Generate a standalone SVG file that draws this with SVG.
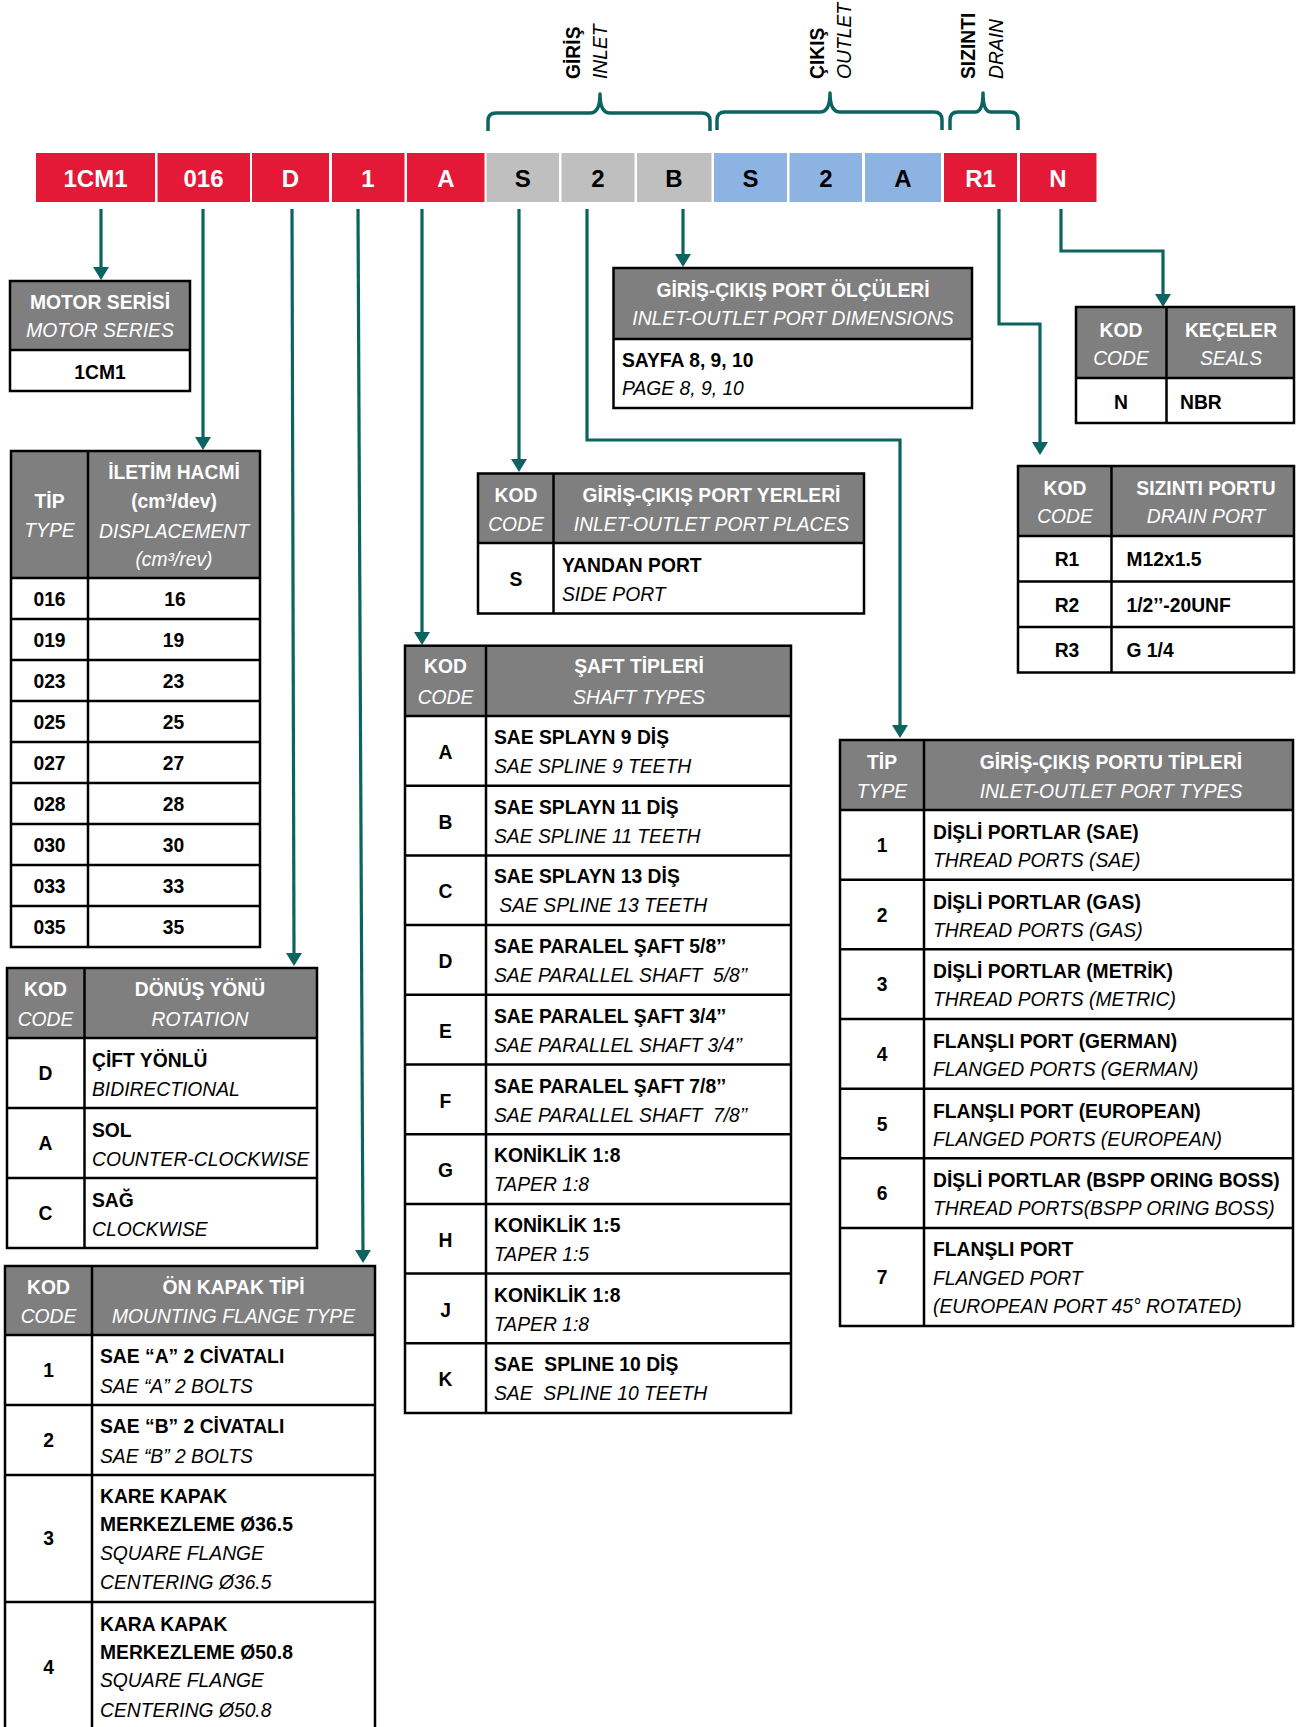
<svg xmlns="http://www.w3.org/2000/svg" width="1303" height="1727" viewBox="0 0 1303 1727">
<style>
text{font-family:"Liberation Sans",Arial,sans-serif;font-size:19.3px;fill:#000}
.b{font-weight:bold}
.i{font-style:italic}
.w{fill:#fff}
.c{text-anchor:middle}
.cell{font-size:24px;font-weight:bold;text-anchor:middle}
.red{fill:#E31937}
.gry{fill:#BFBFBF}
.blu{fill:#8DB3E2}
.hd{fill:#7F7F7F}
.bg{fill:#fff}
.ln{stroke:#000;stroke-width:2.5;fill:none}
.con{stroke:#0C6461;stroke-width:3.2;fill:none}
.br{stroke:#0C6461;stroke-width:3.5;fill:none;stroke-linejoin:round}
.pre{white-space:pre}
</style>
<defs>
<marker id="ah" markerUnits="userSpaceOnUse" markerWidth="16" markerHeight="16" refX="4" refY="8" orient="auto">
<path d="M0,0 L13,8 L0,16 z" fill="#0C6461"/>
</marker>
</defs>
<rect width="1303" height="1727" fill="#fff"/>

<g id="code-bar">
<rect class="red" x="36" y="153" width="119" height="49"/>
<rect class="red" x="157.5" y="153" width="92.5" height="49"/>
<rect class="red" x="252" y="153" width="77" height="49"/>
<rect class="red" x="332" y="153" width="72.5" height="49"/>
<rect class="red" x="407" y="153" width="77.5" height="49"/>
<rect class="gry" x="486.5" y="153" width="72.5" height="49"/>
<rect class="gry" x="561.5" y="153" width="73" height="49"/>
<rect class="gry" x="637" y="153" width="74.5" height="49"/>
<rect class="blu" x="714" y="153" width="73" height="49"/>
<rect class="blu" x="789.5" y="153" width="72.5" height="49"/>
<rect class="blu" x="865" y="153" width="76" height="49"/>
<rect class="red" x="944" y="153" width="73" height="49"/>
<rect class="red" x="1020" y="153" width="76.5" height="49"/>
<text class="cell w" x="95.5" y="187">1CM1</text>
<text class="cell w" x="203.5" y="187">016</text>
<text class="cell w" x="290.5" y="187">D</text>
<text class="cell w" x="368" y="187">1</text>
<text class="cell w" x="446" y="187">A</text>
<text class="cell" x="522.7" y="187">S</text>
<text class="cell" x="598" y="187">2</text>
<text class="cell" x="674" y="187">B</text>
<text class="cell" x="750.5" y="187">S</text>
<text class="cell" x="826" y="187">2</text>
<text class="cell" x="903" y="187">A</text>
<text class="cell w" x="980.5" y="187">R1</text>
<text class="cell w" x="1058" y="187">N</text>
</g>

<g id="braces">
<path class="br" d="M488,131 V121 Q488,113 496,113 H590 Q600,113 600,94 Q600,113 610,113 H702 Q710,113 710,121 V131"/>
<path class="br" d="M717,130 V120 Q717,112 725,112 H820 Q830,112 830,93 Q830,112 840,112 H934 Q942,112 942,120 V130"/>
<path class="br" d="M950,130 V120 Q950,112 958,112 H975 Q983,112 983,93 Q983,112 991,112 H1010 Q1018,112 1018,120 V130"/>
<text class="b" transform="translate(580,79) rotate(-90)">GİRİŞ</text>
<text class="i" transform="translate(607,79) rotate(-90)">INLET</text>
<text class="b" transform="translate(824,79) rotate(-90)">ÇIKIŞ</text>
<text class="i" transform="translate(851,79) rotate(-90)">OUTLET</text>
<text class="b" transform="translate(975,79) rotate(-90)">SIZINTI</text>
<text class="i" transform="translate(1003,79) rotate(-90)">DRAIN</text>
</g>

<g id="connectors">
<path class="con" marker-end="url(#ah)" d="M101,209 V271"/>
<path class="con" marker-end="url(#ah)" d="M203,209 V441"/>
<path class="con" marker-end="url(#ah)" d="M292,209 L294,957"/>
<path class="con" marker-end="url(#ah)" d="M358,209 L363,1254"/>
<path class="con" marker-end="url(#ah)" d="M422,209 V636"/>
<path class="con" marker-end="url(#ah)" d="M519,209 V463"/>
<path class="con" marker-end="url(#ah)" d="M587,209 V440 H900 V729"/>
<path class="con" marker-end="url(#ah)" d="M683,209 V258"/>
<path class="con" marker-end="url(#ah)" d="M999,209 V324 H1040 V446"/>
<path class="con" marker-end="url(#ah)" d="M1061,209 V251 H1163 V298"/>
</g>

<g id="motor-series">
<rect class="hd" x="10" y="281" width="180" height="69"/>
<rect class="bg" x="10" y="350" width="180" height="41"/>
<rect class="ln" x="10" y="281" width="180" height="110"/>
<line class="ln" x1="10" y1="350" x2="190" y2="350"/>
<text class="b w c" x="100" y="309">MOTOR SERİSİ</text>
<text class="i w c" x="100" y="337">MOTOR SERIES</text>
<text class="b c" x="100" y="378.5">1CM1</text>
</g>

<g id="displacement">
<rect class="hd" x="11" y="451" width="249" height="127"/>
<rect class="bg" x="11" y="578" width="249" height="369"/>
<rect class="ln" x="11" y="451" width="249" height="496"/>
<line class="ln" x1="88" y1="451" x2="88" y2="947"/>
<path class="ln" d="M11,578 H260 M11,619 H260 M11,660 H260 M11,701 H260 M11,742 H260 M11,783 H260 M11,824 H260 M11,865 H260 M11,906 H260"/>
<text class="b w c" x="49.5" y="508">TİP</text>
<text class="i w c" x="49.5" y="537">TYPE</text>
<text class="b w c" x="174" y="479">İLETİM HACMİ</text>
<text class="b w c" x="174" y="508">(cm³/dev)</text>
<text class="i w c" x="174" y="538">DISPLACEMENT</text>
<text class="i w c" x="174" y="566">(cm³/rev)</text>
<g class="b">
<text class="b c" x="49.5" y="605.5">016</text><text class="b c" x="175" y="605.5">16</text>
<text class="b c" x="49.5" y="646.5">019</text><text class="b c" x="173.5" y="646.5">19</text>
<text class="b c" x="49.5" y="687.5">023</text><text class="b c" x="173.5" y="687.5">23</text>
<text class="b c" x="49.5" y="728.5">025</text><text class="b c" x="173.5" y="728.5">25</text>
<text class="b c" x="49.5" y="769.5">027</text><text class="b c" x="173.5" y="769.5">27</text>
<text class="b c" x="49.5" y="810.5">028</text><text class="b c" x="173.5" y="810.5">28</text>
<text class="b c" x="49.5" y="851.5">030</text><text class="b c" x="173.5" y="851.5">30</text>
<text class="b c" x="49.5" y="892.5">033</text><text class="b c" x="173.5" y="892.5">33</text>
<text class="b c" x="49.5" y="933.5">035</text><text class="b c" x="173.5" y="933.5">35</text>
</g>
</g>

<g id="rotation">
<rect class="hd" x="7" y="968" width="310" height="70"/>
<rect class="bg" x="7" y="1038" width="310" height="210"/>
<rect class="ln" x="7" y="968" width="310" height="280"/>
<line class="ln" x1="84.5" y1="968" x2="84.5" y2="1248"/>
<path class="ln" d="M7,1038 H317 M7,1108 H317 M7,1178 H317"/>
<text class="b w c" x="45.5" y="996">KOD</text>
<text class="i w c" x="45.5" y="1026">CODE</text>
<text class="b w c" x="200" y="996">DÖNÜŞ YÖNÜ</text>
<text class="i w c" x="200" y="1026">ROTATION</text>
<text class="b c" x="45.5" y="1080">D</text>
<text class="b" x="92" y="1067">ÇİFT YÖNLÜ</text>
<text class="i" x="92" y="1095.5">BIDIRECTIONAL</text>
<text class="b c" x="45.5" y="1150">A</text>
<text class="b" x="92" y="1137">SOL</text>
<text class="i" x="92" y="1165.5">COUNTER-CLOCKWISE</text>
<text class="b c" x="45.5" y="1220">C</text>
<text class="b" x="92" y="1207">SAĞ</text>
<text class="i" x="92" y="1235.5">CLOCKWISE</text>
</g>

<g id="mounting-flange">
<rect class="hd" x="5" y="1266" width="370" height="69"/>
<rect class="bg" x="5" y="1335" width="370" height="400"/>
<path class="ln" d="M5,1740 V1266 H375 V1740"/>
<line class="ln" x1="92" y1="1266" x2="92" y2="1740"/>
<path class="ln" d="M5,1335 H375 M5,1405 H375 M5,1475 H375 M5,1602 H375"/>
<text class="b w c" x="48.5" y="1294">KOD</text>
<text class="i w c" x="48.5" y="1323">CODE</text>
<text class="b w c" x="233.5" y="1294">ÖN KAPAK TİPİ</text>
<text class="i w c" x="233.5" y="1323">MOUNTING FLANGE TYPE</text>
<text class="b c" x="48.5" y="1377">1</text>
<text class="b" x="100" y="1363">SAE “A” 2 CİVATALI</text>
<text class="i" x="100" y="1392.5">SAE “A” 2 BOLTS</text>
<text class="b c" x="48.5" y="1447">2</text>
<text class="b" x="100" y="1433">SAE “B” 2 CİVATALI</text>
<text class="i" x="100" y="1462.5">SAE “B” 2 BOLTS</text>
<text class="b c" x="48.5" y="1545">3</text>
<text class="b" x="100" y="1502.5">KARE KAPAK</text>
<text class="b" x="100" y="1531">MERKEZLEME Ø36.5</text>
<text class="i" x="100" y="1560">SQUARE FLANGE</text>
<text class="i" x="100" y="1589">CENTERING Ø36.5</text>
<text class="b c" x="48.5" y="1674">4</text>
<text class="b" x="100" y="1631">KARA KAPAK</text>
<text class="b" x="100" y="1658.5">MERKEZLEME Ø50.8</text>
<text class="i" x="100" y="1687">SQUARE FLANGE</text>
<text class="i" x="100" y="1716.5">CENTERING Ø50.8</text>
</g>

<g id="port-dimensions">
<rect class="hd" x="613.5" y="268" width="358.5" height="71"/>
<rect class="bg" x="613.5" y="339" width="358.5" height="69"/>
<rect class="ln" x="613.5" y="268" width="358.5" height="140"/>
<line class="ln" x1="613.5" y1="339" x2="972" y2="339"/>
<text class="b w c" x="793" y="297">GİRİŞ-ÇIKIŞ PORT ÖLÇÜLERİ</text>
<text class="i w c" x="793" y="325">INLET-OUTLET PORT DIMENSIONS</text>
<text class="b" x="622" y="367">SAYFA 8, 9, 10</text>
<text class="i" x="622" y="395">PAGE 8, 9, 10</text>
</g>

<g id="seals">
<rect class="hd" x="1076" y="307" width="218" height="71"/>
<rect class="bg" x="1076" y="378" width="218" height="45"/>
<rect class="ln" x="1076" y="307" width="218" height="116"/>
<line class="ln" x1="1166.5" y1="307" x2="1166.5" y2="423"/>
<line class="ln" x1="1076" y1="378" x2="1294" y2="378"/>
<text class="b w c" x="1121" y="337">KOD</text>
<text class="i w c" x="1121" y="365">CODE</text>
<text class="b w c" x="1231" y="337">KEÇELER</text>
<text class="i w c" x="1231" y="365">SEALS</text>
<text class="b c" x="1121" y="409">N</text>
<text class="b" x="1180" y="409">NBR</text>
</g>

<g id="port-places">
<rect class="hd" x="478" y="473.5" width="386" height="69.5"/>
<rect class="bg" x="478" y="543" width="386" height="70.5"/>
<rect class="ln" x="478" y="473.5" width="386" height="140"/>
<line class="ln" x1="553.5" y1="473.5" x2="553.5" y2="613.5"/>
<line class="ln" x1="478" y1="543" x2="864" y2="543"/>
<text class="b w c" x="516" y="502">KOD</text>
<text class="i w c" x="516" y="530.5">CODE</text>
<text class="b w c" x="711.5" y="502">GİRİŞ-ÇIKIŞ PORT YERLERİ</text>
<text class="i w c" x="711.5" y="530.5">INLET-OUTLET PORT PLACES</text>
<text class="b c" x="516" y="586">S</text>
<text class="b" x="562" y="571.5">YANDAN PORT</text>
<text class="i" x="562" y="601">SIDE PORT</text>
</g>

<g id="shaft-types">
<rect class="hd" x="405" y="645.7" width="386" height="70.3"/>
<rect class="bg" x="405" y="716" width="386" height="697"/>
<rect class="ln" x="405" y="645.7" width="386" height="767.3"/>
<line class="ln" x1="486" y1="645.7" x2="486" y2="1413"/>
<path class="ln" d="M405,716 H791 M405,785.7 H791 M405,855.4 H791 M405,925.1 H791 M405,994.8 H791 M405,1064.5 H791 M405,1134.2 H791 M405,1203.9 H791 M405,1273.6 H791 M405,1343.3 H791"/>
<text class="b w c" x="445.5" y="673">KOD</text>
<text class="i w c" x="445.5" y="704">CODE</text>
<text class="b w c" x="639" y="673">ŞAFT TİPLERİ</text>
<text class="i w c" x="639" y="704">SHAFT TYPES</text>
<text class="b c" x="445.5" y="759">A</text>
<text class="b" x="494" y="744">SAE SPLAYN 9 DİŞ</text>
<text class="i" x="494" y="773">SAE SPLINE 9 TEETH</text>
<text class="b c" x="445.5" y="828.7">B</text>
<text class="b" x="494" y="813.7">SAE SPLAYN 11 DİŞ</text>
<text class="i" x="494" y="842.7">SAE SPLINE 11 TEETH</text>
<text class="b c" x="445.5" y="898.4">C</text>
<text class="b" x="494" y="883.4">SAE SPLAYN 13 DİŞ</text>
<text class="i pre" x="494" y="912.4"> SAE SPLINE 13 TEETH</text>
<text class="b c" x="445.5" y="968.1">D</text>
<text class="b" x="494" y="953.1">SAE PARALEL ŞAFT 5/8’’</text>
<text class="i pre" x="494" y="982.1">SAE PARALLEL SHAFT  5/8’’</text>
<text class="b c" x="445.5" y="1037.8">E</text>
<text class="b" x="494" y="1022.8">SAE PARALEL ŞAFT 3/4’’</text>
<text class="i" x="494" y="1051.8">SAE PARALLEL SHAFT 3/4’’</text>
<text class="b c" x="445.5" y="1107.5">F</text>
<text class="b" x="494" y="1092.5">SAE PARALEL ŞAFT 7/8’’</text>
<text class="i pre" x="494" y="1121.5">SAE PARALLEL SHAFT  7/8’’</text>
<text class="b c" x="445.5" y="1177.2">G</text>
<text class="b" x="494" y="1162.2">KONİKLİK 1:8</text>
<text class="i" x="494" y="1191.2">TAPER 1:8</text>
<text class="b c" x="445.5" y="1246.9">H</text>
<text class="b" x="494" y="1231.9">KONİKLİK 1:5</text>
<text class="i" x="494" y="1260.9">TAPER 1:5</text>
<text class="b c" x="445.5" y="1316.6">J</text>
<text class="b" x="494" y="1301.6">KONİKLİK 1:8</text>
<text class="i" x="494" y="1330.6">TAPER 1:8</text>
<text class="b c" x="445.5" y="1386.3">K</text>
<text class="b pre" x="494" y="1371.3">SAE  SPLINE 10 DİŞ</text>
<text class="i pre" x="494" y="1400.3">SAE  SPLINE 10 TEETH</text>
</g>

<g id="drain-port">
<rect class="hd" x="1018" y="466" width="276" height="70"/>
<rect class="bg" x="1018" y="536" width="276" height="136.5"/>
<rect class="ln" x="1018" y="466" width="276" height="206.5"/>
<line class="ln" x1="1111.5" y1="466" x2="1111.5" y2="672.5"/>
<path class="ln" d="M1018,536 H1294 M1018,581.5 H1294 M1018,627 H1294"/>
<text class="b w c" x="1065" y="495">KOD</text>
<text class="i w c" x="1065" y="523">CODE</text>
<text class="b w c" x="1206" y="495">SIZINTI PORTU</text>
<text class="i w c" x="1206" y="523">DRAIN PORT</text>
<text class="b c" x="1067" y="566">R1</text>
<text class="b" x="1126.5" y="566">M12x1.5</text>
<text class="b c" x="1067" y="611.5">R2</text>
<text class="b" x="1126.5" y="611.5">1/2’’-20UNF</text>
<text class="b c" x="1067" y="657">R3</text>
<text class="b" x="1126.5" y="657">G 1/4</text>
</g>

<g id="port-types">
<rect class="hd" x="840" y="740" width="453" height="70"/>
<rect class="bg" x="840" y="810" width="453" height="516"/>
<rect class="ln" x="840" y="740" width="453" height="586"/>
<line class="ln" x1="924" y1="740" x2="924" y2="1326"/>
<path class="ln" d="M840,810 H1293 M840,879.7 H1293 M840,949.3 H1293 M840,1019 H1293 M840,1088.7 H1293 M840,1158.3 H1293 M840,1228 H1293"/>
<text class="b w c" x="882" y="768.5">TİP</text>
<text class="i w c" x="882" y="798">TYPE</text>
<text class="b w c" x="1111" y="768.5">GİRİŞ-ÇIKIŞ PORTU TİPLERİ</text>
<text class="i w c" x="1111" y="798">INLET-OUTLET PORT TYPES</text>
<text class="b c" x="882" y="852">1</text>
<text class="b" x="933" y="839">DİŞLİ PORTLAR (SAE)</text>
<text class="i" x="933" y="867">THREAD PORTS (SAE)</text>
<text class="b c" x="882" y="921.7">2</text>
<text class="b" x="933" y="908.7">DİŞLİ PORTLAR (GAS)</text>
<text class="i" x="933" y="936.7">THREAD PORTS (GAS)</text>
<text class="b c" x="882" y="991.3">3</text>
<text class="b" x="933" y="978.3">DİŞLİ PORTLAR (METRİK)</text>
<text class="i" x="933" y="1006.3">THREAD PORTS (METRIC)</text>
<text class="b c" x="882" y="1061">4</text>
<text class="b" x="933" y="1048">FLANŞLI PORT (GERMAN)</text>
<text class="i" x="933" y="1076">FLANGED PORTS (GERMAN)</text>
<text class="b c" x="882" y="1130.7">5</text>
<text class="b" x="933" y="1117.7">FLANŞLI PORT (EUROPEAN)</text>
<text class="i" x="933" y="1145.7">FLANGED PORTS (EUROPEAN)</text>
<text class="b c" x="882" y="1200.3">6</text>
<text class="b" x="933" y="1187.3">DİŞLİ PORTLAR (BSPP ORING BOSS)</text>
<text class="i" x="933" y="1215.3">THREAD PORTS(BSPP ORING BOSS)</text>
<text class="b c" x="882" y="1284">7</text>
<text class="b" x="933" y="1256">FLANŞLI PORT</text>
<text class="i" x="933" y="1285">FLANGED PORT</text>
<text class="i" x="933" y="1313">(EUROPEAN PORT 45° ROTATED)</text>
</g>
</svg>
